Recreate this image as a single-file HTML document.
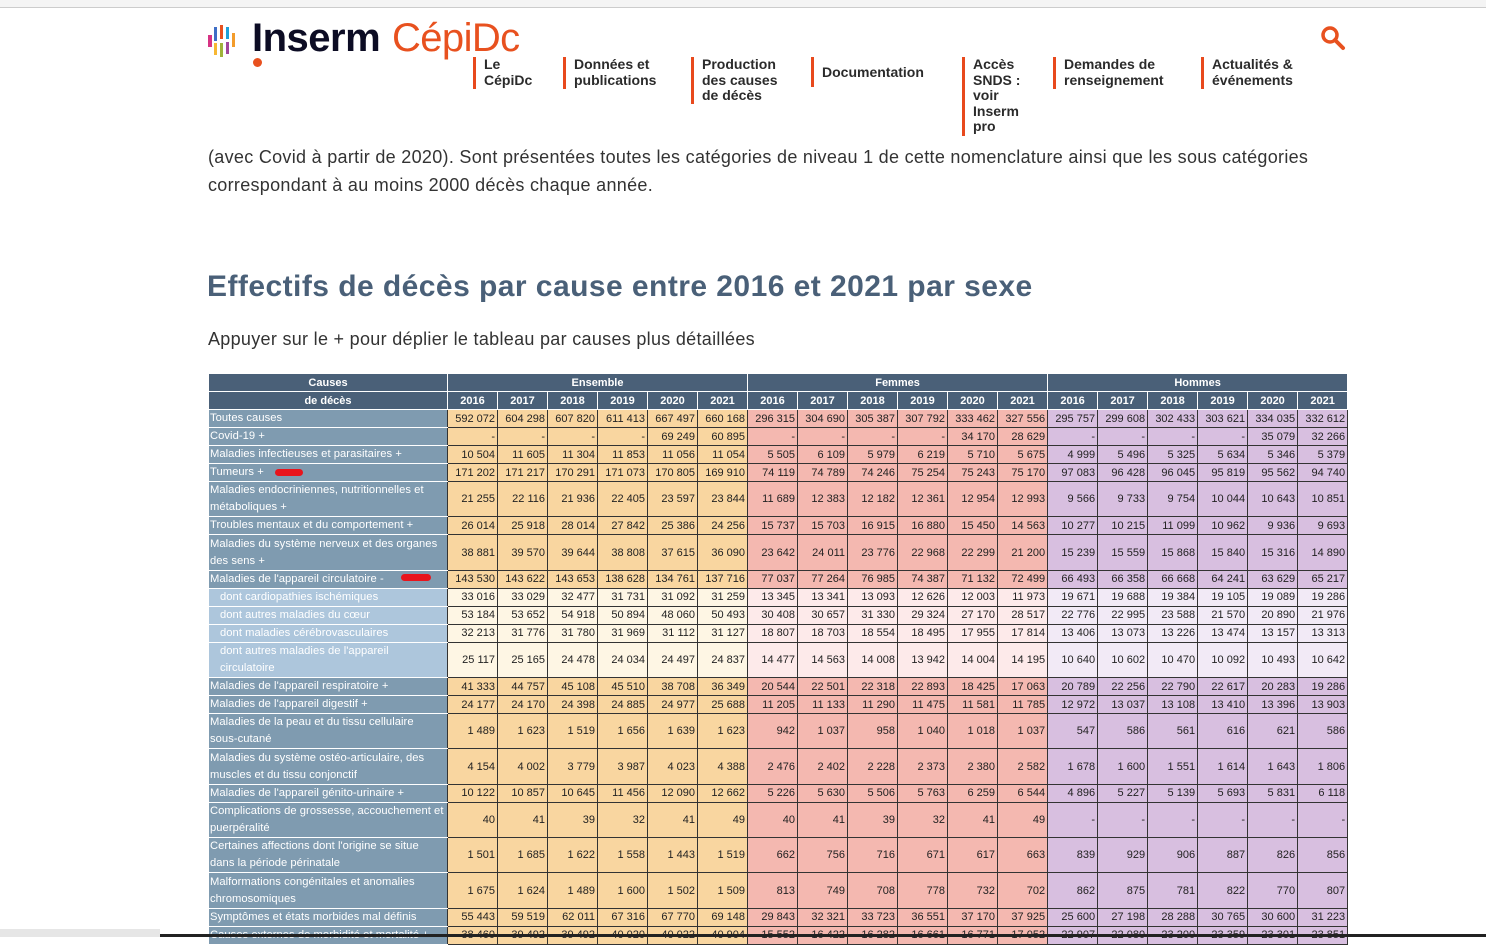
<!DOCTYPE html>
<html><head><meta charset="utf-8">
<style>
*{margin:0;padding:0;box-sizing:border-box}
body{width:1486px;height:937px;overflow:hidden;background:#fff;font-family:"Liberation Sans",sans-serif;position:relative;color:#333}
.topbar{position:absolute;left:0;top:0;width:1486px;height:8px;background:#f4f4f4;border-bottom:1px solid #ccc}
.abs{position:absolute}
.nav{position:absolute;font-weight:bold;font-size:14px;line-height:15.5px;color:#2b2b2b;border-left:3px solid #e8491d;padding-left:8px}
p.t{position:absolute;left:208px;font-size:18px;color:#333;white-space:nowrap;letter-spacing:0.3px}
table{position:absolute;left:208px;top:373px;border-collapse:collapse;table-layout:fixed;font-size:11px;width:1139px}
td,th{overflow:hidden;white-space:nowrap}
th{background:#4a6078;color:#fff;font-weight:bold;border:1px solid #fff;height:18px;text-align:center;font-size:11px}
td{border:1px solid #333;text-align:right;padding:0 2px;color:#222;vertical-align:middle;line-height:16px}
td.l{background:#7f9bb0;color:#fff;text-align:left;padding:0 1px;border:1px solid #fff;border-right:1px solid #333;white-space:normal;line-height:17px;font-size:11.2px;letter-spacing:0.05px}
td.l.s{background:#adc6dc;padding-left:11px;padding-right:40px}
td.e{background:#f9d6a0}td.f{background:#f4b8b0}td.h{background:#d8bfe0}
tr.s td.e{background:#fef6e4}tr.s td.f{background:#fdeaea}tr.s td.h{background:#f2eaf6}
tr{height:17.85px}tr.d{height:35.35px}
</style></head><body>
<div class="topbar"></div>
<div class="abs" style="left:208px;top:35px;width:4px;height:12px;background:#d63384"></div>
<div class="abs" style="left:214px;top:27px;width:3px;height:14px;background:#3f6ec6"></div>
<div class="abs" style="left:214px;top:43px;width:3px;height:12px;background:#f7b733"></div>
<div class="abs" style="left:220px;top:25px;width:3px;height:14px;background:#e8511f"></div>
<div class="abs" style="left:220px;top:43px;width:3px;height:14px;background:#9fb33a"></div>
<div class="abs" style="left:226px;top:27px;width:3px;height:12px;background:#1fa0d8"></div>
<div class="abs" style="left:226px;top:42px;width:3px;height:12px;background:#a0479c"></div>
<div class="abs" style="left:232px;top:33px;width:3px;height:14px;background:#f39c2b"></div>
<div class="abs" style="left:253px;top:58px;width:9px;height:9px;border-radius:50%;background:#e8511f"></div>
<div class="abs" style="left:252px;top:16px;font-size:40px;font-weight:bold;color:#0c0c24;letter-spacing:-0.5px">Inserm</div>
<div class="abs" style="left:392px;top:16px;font-size:40px;color:#e8511f;letter-spacing:-0.6px">CépiDc</div>
<div class="nav" style="left:473px;top:57px;height:32px">Le<br>CépiDc</div>
<div class="nav" style="left:563px;top:57px;height:32px">Données et<br>publications</div>
<div class="nav" style="left:691px;top:57px;height:47px">Production<br>des causes<br>de décès</div>
<div class="nav" style="left:811px;top:57px;height:30px;padding-top:8px">Documentation</div>
<div class="nav" style="left:962px;top:57px;height:79px">Accès<br>SNDS :<br>voir<br>Inserm<br>pro</div>
<div class="nav" style="left:1053px;top:57px;height:32px">Demandes de<br>renseignement</div>
<div class="nav" style="left:1201px;top:57px;height:32px">Actualités &amp;<br>événements</div>
<svg class="abs" style="left:1320px;top:25px" width="26" height="26"><circle cx="10" cy="10" r="7" fill="none" stroke="#e8511f" stroke-width="3.5"/><line x1="15" y1="15" x2="23" y2="23" stroke="#e8511f" stroke-width="4" stroke-linecap="round"/></svg>

<p class="t" style="top:147px">(avec Covid à partir de 2020). Sont présentées toutes les catégories de niveau 1 de cette nomenclature ainsi que les sous catégories</p>
<p class="t" style="top:175px">correspondant à au moins 2000 décès chaque année.</p>
<div class="abs" style="left:207px;top:270px;font-size:30px;font-weight:bold;color:#4a6078;white-space:nowrap;letter-spacing:0.45px">Effectifs de décès par cause entre 2016 et 2021 par sexe</div>
<p class="t" style="top:329px">Appuyer sur le + pour déplier le tableau par causes plus détaillées</p>

<table>
<colgroup><col style="width:239px"><col span="18" style="width:50px"></colgroup>
<tr><th>Causes</th><th colspan="6">Ensemble</th><th colspan="6">Femmes</th><th colspan="6">Hommes</th></tr>
<tr><th>de décès</th><th>2016</th><th>2017</th><th>2018</th><th>2019</th><th>2020</th><th>2021</th><th>2016</th><th>2017</th><th>2018</th><th>2019</th><th>2020</th><th>2021</th><th>2016</th><th>2017</th><th>2018</th><th>2019</th><th>2020</th><th>2021</th></tr>
<tbody id="tb"></tbody>
</table>
<div class="abs" style="left:275px;top:469px;width:28px;height:7px;border-radius:4px;background:#e8141c"></div>
<div class="abs" style="left:401px;top:574px;width:30px;height:7px;border-radius:4px;background:#e8141c"></div>
<div class="abs" style="left:0;top:929px;width:160px;height:8px;background:#e6e6e6"></div>
<div class="abs" style="left:160px;top:934px;width:1326px;height:3px;background:#222"></div>
<script>
var R=[
["Toutes causes",0,0,"592 072|604 298|607 820|611 413|667 497|660 168|296 315|304 690|305 387|307 792|333 462|327 556|295 757|299 608|302 433|303 621|334 035|332 612"],
["Covid-19 +",0,0,"-|-|-|-|69 249|60 895|-|-|-|-|34 170|28 629|-|-|-|-|35 079|32 266"],
["Maladies infectieuses et parasitaires +",0,0,"10 504|11 605|11 304|11 853|11 056|11 054|5 505|6 109|5 979|6 219|5 710|5 675|4 999|5 496|5 325|5 634|5 346|5 379"],
["Tumeurs +",0,0,"171 202|171 217|170 291|171 073|170 805|169 910|74 119|74 789|74 246|75 254|75 243|75 170|97 083|96 428|96 045|95 819|95 562|94 740"],
["Maladies endocriniennes, nutritionnelles et métaboliques +",1,0,"21 255|22 116|21 936|22 405|23 597|23 844|11 689|12 383|12 182|12 361|12 954|12 993|9 566|9 733|9 754|10 044|10 643|10 851"],
["Troubles mentaux et du comportement +",0,0,"26 014|25 918|28 014|27 842|25 386|24 256|15 737|15 703|16 915|16 880|15 450|14 563|10 277|10 215|11 099|10 962|9 936|9 693"],
["Maladies du système nerveux et des organes des sens +",1,0,"38 881|39 570|39 644|38 808|37 615|36 090|23 642|24 011|23 776|22 968|22 299|21 200|15 239|15 559|15 868|15 840|15 316|14 890"],
["Maladies de l'appareil circulatoire -",0,0,"143 530|143 622|143 653|138 628|134 761|137 716|77 037|77 264|76 985|74 387|71 132|72 499|66 493|66 358|66 668|64 241|63 629|65 217"],
["dont cardiopathies ischémiques",0,1,"33 016|33 029|32 477|31 731|31 092|31 259|13 345|13 341|13 093|12 626|12 003|11 973|19 671|19 688|19 384|19 105|19 089|19 286"],
["dont autres maladies du cœur",0,1,"53 184|53 652|54 918|50 894|48 060|50 493|30 408|30 657|31 330|29 324|27 170|28 517|22 776|22 995|23 588|21 570|20 890|21 976"],
["dont maladies cérébrovasculaires",0,1,"32 213|31 776|31 780|31 969|31 112|31 127|18 807|18 703|18 554|18 495|17 955|17 814|13 406|13 073|13 226|13 474|13 157|13 313"],
["dont autres maladies de l'appareil circulatoire",1,1,"25 117|25 165|24 478|24 034|24 497|24 837|14 477|14 563|14 008|13 942|14 004|14 195|10 640|10 602|10 470|10 092|10 493|10 642"],
["Maladies de l'appareil respiratoire +",0,0,"41 333|44 757|45 108|45 510|38 708|36 349|20 544|22 501|22 318|22 893|18 425|17 063|20 789|22 256|22 790|22 617|20 283|19 286"],
["Maladies de l'appareil digestif +",0,0,"24 177|24 170|24 398|24 885|24 977|25 688|11 205|11 133|11 290|11 475|11 581|11 785|12 972|13 037|13 108|13 410|13 396|13 903"],
["Maladies de la peau et du tissu cellulaire sous&#8209;cutané",1,0,"1 489|1 623|1 519|1 656|1 639|1 623|942|1 037|958|1 040|1 018|1 037|547|586|561|616|621|586"],
["Maladies du système ostéo-articulaire, des muscles et du tissu conjonctif",1,0,"4 154|4 002|3 779|3 987|4 023|4 388|2 476|2 402|2 228|2 373|2 380|2 582|1 678|1 600|1 551|1 614|1 643|1 806"],
["Maladies de l'appareil génito-urinaire +",0,0,"10 122|10 857|10 645|11 456|12 090|12 662|5 226|5 630|5 506|5 763|6 259|6 544|4 896|5 227|5 139|5 693|5 831|6 118"],
["Complications de grossesse, accouchement et<br>puerpéralité",1,0,"40|41|39|32|41|49|40|41|39|32|41|49|-|-|-|-|-|-"],
["Certaines affections dont l'origine se situe<br>dans la période périnatale",1,0,"1 501|1 685|1 622|1 558|1 443|1 519|662|756|716|671|617|663|839|929|906|887|826|856"],
["Malformations congénitales et anomalies chromosomiques",1,0,"1 675|1 624|1 489|1 600|1 502|1 509|813|749|708|778|732|702|862|875|781|822|770|807"],
["Symptômes et états morbides mal définis",0,0,"55 443|59 519|62 011|67 316|67 770|69 148|29 843|32 321|33 723|36 551|37 170|37 925|25 600|27 198|28 288|30 765|30 600|31 223"],
["Causes externes de morbidité et mortalité +",0,0,"38 460|39 492|39 492|40 020|40 022|40 904|15 552|16 422|16 282|16 661|16 771|17 052|22 907|22 080|23 200|23 359|23 301|23 851"]
];
var h="";
R.forEach(function(r){var v=r[3].split("|");h+='<tr class="'+(r[1]?'d ':'')+(r[2]?'s':'')+'"><td class="l'+(r[2]?' s':'')+'">'+r[0]+'</td>';
v.forEach(function(x,i){h+='<td class="'+(i<6?'e':i<12?'f':'h')+'">'+x+'</td>'});h+='</tr>'});
document.getElementById('tb').innerHTML=h;
</script>
</body></html>
